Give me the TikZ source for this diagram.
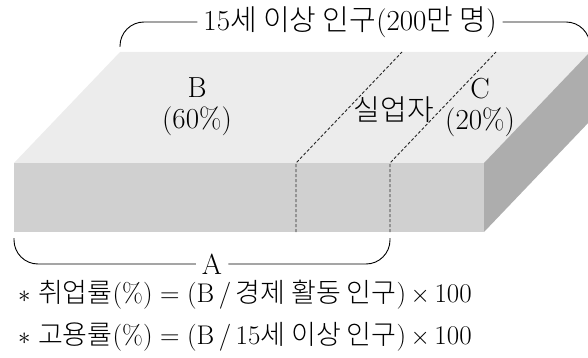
\documentclass[tikz,border=0pt]{standalone}
\usepackage{fontspec}
\IfFontExistsTF{Noto Sans CJK KR Light}
  {\newfontfamily\krfont{Noto Sans CJK KR Light}}
  {\newfontfamily\krfont{Noto Sans CJK KR}}
\newcommand\kr[1]{{\krfont #1}}
\usepackage{tikz}
\usetikzlibrary{positioning, calc}
\definecolor{topface}{gray}{0.925}
\definecolor{frontface}{gray}{0.815}
\definecolor{sideface}{gray}{0.68}
\tikzset{
  lbl/.style={font=\fontsize{29}{31}\selectfont, align=center, inner sep=0pt},
  divider/.style={densely dashed, line width=0.9pt, draw=black!85},
  brace/.style={line width=0.9pt, draw=black, rounded corners=24pt},
  note/.style={font=\fontsize{27}{30}\selectfont, anchor=west, inner sep=0pt},
}

\begin{document}
\begin{tikzpicture}[x=1pt, y=-1pt]
  \useasboundingbox (0,0) rectangle (588,358);

  % block corners
  \coordinate (fl) at (14,163);
  \coordinate (fr) at (484,163);
  \coordinate (bl) at (14,232);
  \coordinate (br) at (484,232);
  \coordinate (d)  at (106,-111);

  \fill[topface]   (fl) -- ($(fl)+(d)$) -- ($(fr)+(d)$) -- (fr) -- cycle;
  \fill[frontface] (fl) rectangle (br);
  \fill[sideface]  (fr) -- ($(fr)+(d)$) -- ($(br)+(d)$) -- (br) -- cycle;

  % dividers
  \coordinate (u1) at (296,163);
  \coordinate (u2) at (390,163);
  \draw[divider] (296,232) -- (u1) -- ($(u1)+(d)$);
  \draw[divider] (390,232) -- (u2) -- ($(u2)+(d)$);

  % labels on top face
  \node[lbl] (b)   at (197,107) {B\\(60\%)};
  \node[lbl] (une) at (394,110) {\kr{실업자}};
  \node[lbl] (c)   at (480,107) {C\\(20\%)};

  % braces
  \node[lbl] (title) at (350,22) {15\kr{세 이상 인구}(200\kr{만 명})};
  \draw[brace] ($(fl)+(d)+(0,-5)$) |- ([xshift=-6pt]title.west);
  \draw[brace] ([xshift=6pt]title.east) -| ($(fr)+(d)+(0,-5)$);
  \node[lbl] (a) at (212,264) {A};
  \draw[brace] (14,238) |- ([xshift=-6pt]a.west);
  \draw[brace] ([xshift=6pt]a.east) -| (390,238);

  % formulas
  \node[note] (f1) at (18,295) {$*$\;\kr{취업률}(\%)\;=\;(B\,/\,\kr{경제 활동 인구})\,$\times$\,100};
  \node[note] (f2) at (18,337) {$*$\;\kr{고용률}(\%)\;=\;(B\,/\,15\kr{세 이상 인구})\,$\times$\,100};
\end{tikzpicture}
\end{document}
